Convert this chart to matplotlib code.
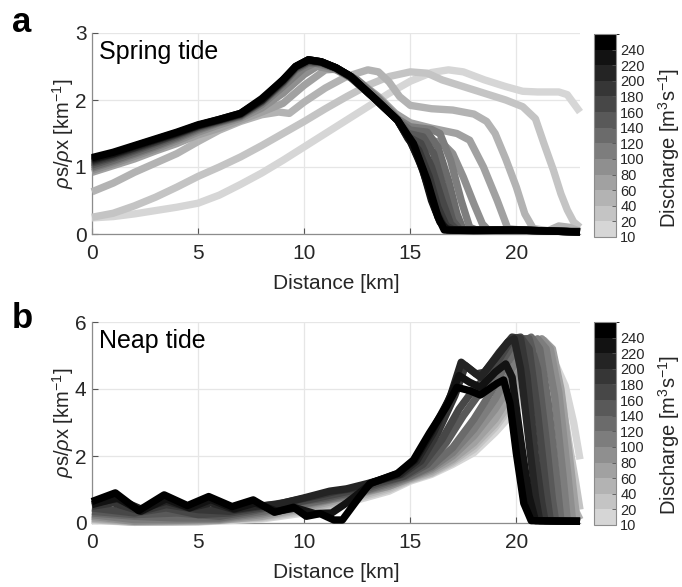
import numpy as np
import matplotlib
matplotlib.use("Agg")
import matplotlib.pyplot as plt
from matplotlib.colors import ListedColormap, BoundaryNorm
from matplotlib.cm import ScalarMappable

plt.rcParams['font.family'] = ['Liberation Sans', 'DejaVu Sans']
plt.rcParams['mathtext.fontset'] = 'custom'
plt.rcParams['mathtext.rm'] = 'Liberation Sans'
plt.rcParams['mathtext.it'] = 'Liberation Sans:italic'

# ---------------- data ----------------
discharge = [10, 20, 40, 60, 80, 100, 120, 140, 160, 180, 200, 220, 240]
cbar_bounds = [10, 20, 40, 60, 80, 100, 120, 140, 160, 180, 200, 220, 240, 260]
cbar_ticks = [10, 20, 40, 60, 80, 100, 120, 140, 160, 180, 200, 220, 240]
x_ticks = [0, 5, 10, 15, 20]
ya_ticks = [0, 1, 2, 3]
yb_ticks = [0, 2, 4, 6]

# Spring tide curves
S10_x = [0, 1, 2, 3, 4, 5, 6, 7, 8, 9, 10, 11, 12, 13, 14, 15, 16, 16.8, 17.5, 18.5, 19.5, 20.3, 21, 22, 22.4, 22.7, 23]
S10_y = [0.24, 0.26, 0.3, 0.35, 0.4, 0.46, 0.58, 0.74, 0.91, 1.1, 1.3, 1.5, 1.7, 1.9, 2.1, 2.28, 2.41, 2.45, 2.42, 2.3, 2.2, 2.13, 2.12, 2.12, 2.08, 1.95, 1.82]
S20_x = [0, 1, 2, 3, 4, 5, 6, 7, 8, 9, 10, 11, 12, 13, 14, 15, 15.8, 16.5, 17.5, 18.5, 19.5, 20.3, 20.9, 21.3, 21.75, 22.1, 22.4, 22.7, 23]
S20_y = [0.25, 0.31, 0.42, 0.55, 0.7, 0.86, 1.0, 1.15, 1.32, 1.5, 1.68, 1.87, 2.05, 2.22, 2.35, 2.42, 2.4, 2.3, 2.2, 2.1, 2.0, 1.9, 1.72, 1.35, 0.95, 0.6, 0.36, 0.18, 0.1]
S40_x = [0, 1, 2, 3, 4, 5, 6, 7, 8, 8.8, 9.3, 10, 11, 12, 13, 13.5, 14, 14.5, 15, 16, 17, 18, 18.6, 19, 19.5, 20, 20.4, 20.8, 21.5, 22, 22.5, 23]
S40_y = [0.63, 0.76, 0.92, 1.06, 1.2, 1.38, 1.55, 1.68, 1.78, 1.82, 1.8, 1.97, 2.18, 2.35, 2.45, 2.42, 2.27, 2.05, 1.92, 1.87, 1.85, 1.79, 1.68, 1.5, 1.12, 0.7, 0.3, 0.08, 0.05, 0.12, 0.1, 0.04]
S60_x = [0, 1, 2, 3, 4, 5, 6, 7, 8, 9, 10, 11, 11.5, 12.5, 13.5, 14.3, 15, 16, 17.2, 17.8, 18.45, 19.1, 19.6, 20.5, 23]
S60_y = [0.92, 1.02, 1.12, 1.24, 1.35, 1.48, 1.58, 1.7, 1.82, 1.95, 2.22, 2.45, 2.46, 2.3, 2.05, 1.8, 1.66, 1.58, 1.5, 1.4, 1.0, 0.5, 0.08, 0.05, 0.04]
S80_x = [0, 1, 2, 3, 4, 5, 6, 7, 8, 9, 10, 10.6, 11.5, 12.5, 13.5, 14.2, 14.8, 15.5, 16.5, 17, 17.5, 18, 18.4, 18.7, 20, 23]
S80_y = [0.95, 1.05, 1.16, 1.27, 1.39, 1.52, 1.63, 1.73, 1.88, 2.1, 2.38, 2.5, 2.45, 2.28, 2.02, 1.8, 1.52, 1.43, 1.36, 1.2, 0.85, 0.45, 0.15, 0.05, 0.05, 0.04]
S100_x = [0, 1, 2, 3, 4, 5, 6, 7, 8, 9, 10, 10.5, 11.5, 12.5, 13.5, 14.4, 15, 16, 16.4, 16.9, 17.4, 17.8, 18.2, 23]
S100_y = [0.98, 1.08, 1.19, 1.3, 1.42, 1.55, 1.66, 1.75, 1.93, 2.2, 2.48, 2.55, 2.47, 2.3, 2.02, 1.72, 1.6, 1.56, 1.5, 1.1, 0.5, 0.1, 0.05, 0.04]
S120_x = [0, 1, 2, 3, 4, 5, 6, 7, 8, 9, 9.6, 10.2, 10.8, 11.5, 12.2, 13.4, 14.4, 15, 15.8, 16.3, 16.8, 17.2, 17.5, 20, 23]
S120_y = [1.0, 1.1, 1.21, 1.32, 1.44, 1.57, 1.67, 1.76, 1.96, 2.24, 2.45, 2.55, 2.55, 2.47, 2.33, 2.0, 1.7, 1.55, 1.52, 1.3, 0.8, 0.3, 0.06, 0.06, 0.03]
S140_x = [0, 1, 2, 3, 4, 5, 6, 7, 8, 9, 9.6, 10.2, 10.8, 11.5, 12.2, 13.4, 14.4, 14.9, 15.6, 16.1, 16.6, 17.0, 17.35, 20, 23]
S140_y = [1.03, 1.13, 1.24, 1.35, 1.46, 1.59, 1.68, 1.77, 1.97, 2.26, 2.47, 2.57, 2.56, 2.47, 2.34, 2.0, 1.7, 1.5, 1.45, 1.2, 0.65, 0.2, 0.06, 0.06, 0.03]
S160_x = [0, 1, 2, 3, 4, 5, 6, 7, 8, 9, 9.6, 10.2, 10.8, 11.5, 12.2, 13.4, 14.4, 14.9, 15.5, 16.0, 16.5, 16.9, 17.2, 20, 23]
S160_y = [1.06, 1.15, 1.26, 1.37, 1.48, 1.6, 1.69, 1.78, 1.98, 2.27, 2.48, 2.58, 2.56, 2.48, 2.34, 2.0, 1.7, 1.45, 1.35, 1.0, 0.5, 0.15, 0.06, 0.06, 0.03]
S180_x = [0, 1, 2, 3, 4, 5, 6, 7, 8, 9, 9.6, 10.2, 10.8, 11.5, 12.2, 13.4, 14.4, 14.9, 15.4, 15.9, 16.3, 16.7, 17.05, 20, 23]
S180_y = [1.08, 1.17, 1.28, 1.38, 1.49, 1.61, 1.7, 1.79, 1.99, 2.28, 2.49, 2.59, 2.57, 2.48, 2.35, 2.0, 1.7, 1.42, 1.25, 0.85, 0.4, 0.12, 0.06, 0.06, 0.03]
S200_x = [0, 1, 2, 3, 4, 5, 6, 7, 8, 9, 9.6, 10.2, 10.8, 11.5, 12.2, 13.4, 14.4, 15.0, 15.4, 15.8, 16.2, 16.6, 16.9, 20, 23]
S200_y = [1.1, 1.19, 1.29, 1.4, 1.5, 1.62, 1.7, 1.79, 2.0, 2.29, 2.5, 2.6, 2.57, 2.48, 2.35, 2.0, 1.7, 1.38, 1.12, 0.75, 0.35, 0.1, 0.06, 0.06, 0.03]
S220_x = [0, 1, 2, 3, 4, 5, 6, 7, 8, 9, 9.6, 10.2, 10.8, 11.5, 12.2, 13.4, 14.4, 15.05, 15.6, 16.0, 16.4, 16.75, 20, 23]
S220_y = [1.12, 1.2, 1.31, 1.41, 1.51, 1.62, 1.71, 1.8, 2.0, 2.3, 2.5, 2.6, 2.57, 2.48, 2.35, 2.0, 1.7, 1.36, 0.95, 0.5, 0.18, 0.06, 0.06, 0.03]
S240_x = [0, 1, 2, 3, 4, 5, 6, 7, 8, 9, 9.6, 10.2, 10.8, 11.5, 12.2, 13.4, 14.4, 15.15, 15.8, 16.3, 16.6, 18, 20, 23]
S240_y = [1.14, 1.22, 1.32, 1.42, 1.52, 1.63, 1.71, 1.8, 2.02, 2.3, 2.5, 2.6, 2.57, 2.48, 2.35, 2.0, 1.7, 1.35, 0.8, 0.26, 0.06, 0.05, 0.06, 0.03]

# Neap tide curves
N10_x = [0, 2, 5, 8, 10, 12, 14, 15, 16, 17, 18, 19, 20, 21, 21.6, 21.9, 22.3, 22.7, 23]
N10_y = [0.08, 0.02, 0.03, 0.12, 0.3, 0.6, 0.95, 1.25, 1.45, 1.75, 2.1, 2.7, 3.4, 4.1, 4.55, 4.67, 4.1, 3.0, 1.9]
N20_x = [0, 2, 5, 8, 10, 12, 14, 15, 16, 17, 18, 19, 20, 20.8, 21.3, 21.7, 22.1, 22.5, 22.8, 23]
N20_y = [0.1, 0.02, 0.04, 0.15, 0.35, 0.65, 1.0, 1.28, 1.48, 1.8, 2.2, 2.85, 3.7, 4.6, 5.45, 5.1, 3.9, 2.3, 1.2, 0.4]
N40_x = [0, 2, 5, 8, 10, 12, 14, 15, 16, 17, 18, 19, 20, 20.6, 21.1, 21.5, 21.9, 22.3, 22.7, 23]
N40_y = [0.12, 0.03, 0.05, 0.18, 0.4, 0.7, 1.05, 1.3, 1.5, 1.85, 2.3, 2.95, 3.85, 4.7, 5.45, 5.2, 4.0, 2.2, 0.5, 0.1]
N60_x = [0, 2, 4, 6, 8, 10, 12, 14, 15, 16, 17, 18, 19, 20, 20.8, 21.3, 21.7, 22.1, 22.5, 22.85, 23]
N60_y = [0.15, 0.05, 0.05, 0.08, 0.2, 0.45, 0.75, 1.1, 1.33, 1.55, 1.9, 2.4, 3.1, 4.1, 4.9, 5.45, 5.2, 4.0, 2.0, 0.1, 0.06]
N80_x = [0, 2, 4, 6, 8, 10, 12, 14, 15, 16, 17, 18, 19, 20, 20.7, 21.2, 21.6, 22.0, 22.4, 22.65, 23]
N80_y = [0.2, 0.05, 0.08, 0.1, 0.25, 0.5, 0.8, 1.1, 1.35, 1.6, 2.0, 2.6, 3.4, 4.4, 5.1, 5.5, 5.2, 3.9, 1.6, 0.07, 0.05]
N100_x = [0, 2, 4, 6, 8, 10, 12, 14, 15, 16, 17, 18, 19, 19.8, 20.5, 21.0, 21.4, 21.8, 22.2, 22.4, 23]
N100_y = [0.25, 0.1, 0.1, 0.12, 0.3, 0.55, 0.8, 1.15, 1.38, 1.65, 2.1, 2.8, 3.7, 4.6, 5.3, 5.5, 5.2, 3.8, 1.4, 0.07, 0.05]
N120_x = [0, 2, 4, 6, 7.5, 9, 11, 13, 14.5, 15, 16, 17, 18, 18.8, 19.5, 20.2, 20.7, 21.1, 21.5, 21.9, 22.1, 23]
N120_y = [0.3, 0.2, 0.15, 0.15, 0.3, 0.45, 0.7, 1.0, 1.3, 1.4, 1.7, 2.25, 3.1, 3.9, 4.7, 5.35, 5.55, 5.2, 3.6, 1.3, 0.07, 0.05]
N140_x = [0, 2, 4, 6, 7.5, 9, 11, 12.5, 14, 14.8, 15.8, 16.7, 17.5, 18.3, 19.0, 19.7, 20.2, 20.6, 21.0, 21.4, 21.7, 21.85, 23]
N140_y = [0.35, 0.25, 0.3, 0.2, 0.35, 0.55, 0.75, 0.95, 1.25, 1.4, 1.75, 2.4, 3.2, 3.9, 4.5, 5.2, 5.5, 5.5, 4.6, 2.5, 0.7, 0.07, 0.05]
N160_x = [0, 2, 3.5, 5, 6.5, 8, 9.5, 11, 12.5, 13.5, 14.7, 15.6, 16.5, 17.3, 18.0, 18.5, 19.2, 19.8, 20.2, 20.6, 21.0, 21.4, 21.6, 23]
N160_y = [0.45, 0.3, 0.45, 0.25, 0.3, 0.45, 0.6, 0.8, 1.0, 1.2, 1.4, 1.75, 2.5, 3.4, 4.0, 4.3, 4.9, 5.5, 5.55, 5.2, 3.3, 1.0, 0.07, 0.05]
N180_x = [0, 1, 2.3, 3.5, 5, 6.5, 7.5, 9, 10.5, 11.5, 12.5, 13.2, 14.6, 15.5, 16.3, 17.1, 17.6, 18.1, 18.5, 19.2, 19.8, 20.2, 20.5, 20.9, 21.2, 21.35, 23]
N180_y = [0.5, 0.6, 0.35, 0.55, 0.4, 0.35, 0.45, 0.6, 0.8, 0.95, 1.05, 1.2, 1.45, 1.85, 2.7, 3.8, 4.7, 4.45, 4.5, 5.1, 5.55, 5.5, 4.4, 2.0, 0.6, 0.07, 0.05]
N200_x = [0, 1.2, 2.3, 3.5, 4.6, 5.6, 6.7, 7.7, 8.7, 10, 11.2, 12, 13, 14.5, 15.3, 16.1, 16.9, 17.4, 17.9, 18.3, 19.0, 19.6, 19.9, 20.2, 20.6, 20.9, 21.1, 23]
N200_y = [0.6, 0.72, 0.42, 0.65, 0.45, 0.6, 0.4, 0.5, 0.55, 0.75, 0.95, 1.02, 1.18, 1.45, 1.85, 2.7, 3.8, 4.8, 4.55, 4.35, 4.9, 5.4, 5.5, 4.6, 2.4, 0.8, 0.07, 0.05]
N220_x = [0, 1.2, 2.3, 3.5, 4.6, 5.6, 6.7, 7.7, 8.7, 9.6, 10.5, 11.3, 12.0, 12.6, 13.2, 14.4, 15.2, 16.0, 16.8, 17.3, 17.8, 18.3, 19.0, 19.5, 19.8, 20.2, 20.6, 20.9, 23]
N220_y = [0.55, 0.75, 0.35, 0.72, 0.45, 0.7, 0.42, 0.6, 0.35, 0.45, 0.28, 0.3, 0.6, 0.9, 1.2, 1.47, 1.87, 2.72, 3.65, 4.4, 4.2, 4.05, 4.5, 4.75, 4.35, 2.5, 0.8, 0.07, 0.05]
N240_x = [0, 1.1, 2.2, 3.4, 4.5, 5.5, 6.6, 7.6, 8.6, 9.5, 10.1, 10.75, 11.4, 11.8, 12.5, 13.1, 14.4, 15.15, 15.9, 16.7, 17.2, 17.8, 18.3, 19.1, 19.4, 19.7, 20.0, 20.35, 20.7, 23]
N240_y = [0.64, 0.9, 0.37, 0.84, 0.52, 0.79, 0.49, 0.69, 0.32, 0.47, 0.2, 0.28, 0.09, 0.09, 0.69, 1.18, 1.48, 1.88, 2.68, 3.47, 4.05, 3.95, 3.82, 4.17, 4.27, 3.57, 2.08, 0.59, 0.07, 0.05]

spring = [(S10_x, S10_y), (S20_x, S20_y), (S40_x, S40_y), (S60_x, S60_y), (S80_x, S80_y),
          (S100_x, S100_y), (S120_x, S120_y), (S140_x, S140_y), (S160_x, S160_y),
          (S180_x, S180_y), (S200_x, S200_y), (S220_x, S220_y), (S240_x, S240_y)]
neap = [(N10_x, N10_y), (N20_x, N20_y), (N40_x, N40_y), (N60_x, N60_y), (N80_x, N80_y),
        (N100_x, N100_y), (N120_x, N120_y), (N140_x, N140_y), (N160_x, N160_y),
        (N180_x, N180_y), (N200_x, N200_y), (N220_x, N220_y), (N240_x, N240_y)]

# ---------------- style ----------------
grays = np.linspace(0.84, 0.0, len(discharge))
colors = [(g, g, g) for g in grays]
cmap = ListedColormap(colors)
norm = BoundaryNorm(cbar_bounds, cmap.N)
TXT = '#262626'

fig = plt.figure(figsize=(6.82, 5.87), dpi=100)

W = 682.0
H = 587.0


def rect(l, t, r, b):
    return [l / W, 1 - b / H, (r - l) / W, (b - t) / H]


panels = [
    dict(ax=rect(92, 33, 580, 234), cb=rect(594, 34, 616, 237), data=spring, ylim=(0, 3),
         yticks=ya_ticks, title='Spring tide', letter='a', ly=22, cbly=148),
    dict(ax=rect(92, 322, 580, 523), cb=rect(594, 322, 616, 525), data=neap, ylim=(0, 6),
         yticks=yb_ticks, title='Neap tide', letter='b', ly=318, cbly=435),
]

for p in panels:
    ax = fig.add_axes(p['ax'])
    for (xs, ys), c in zip(p['data'], colors):
        ax.plot(xs, ys, color=c, lw=5.3, solid_capstyle='butt', solid_joinstyle='round',
                clip_on=False, zorder=3)
    ax.set_xlim(0, 23)
    ax.set_ylim(*p['ylim'])
    ax.set_xticks(x_ticks)
    ax.set_yticks(p['yticks'])
    ax.grid(True, color='#e6e6e6', lw=0.9, zorder=0)
    ax.set_axisbelow(True)
    for s in ['top', 'right']:
        ax.spines[s].set_visible(False)
    for s in ['left', 'bottom']:
        ax.spines[s].set_color('#8c8c8c')
        ax.spines[s].set_linewidth(0.9)
    ax.tick_params(direction='in', length=4, width=0.8, color='#555555',
                   labelsize=15, labelcolor=TXT)
    ax.tick_params(axis='x', pad=7)
    ax.tick_params(axis='y', pad=4)
    ax.text(0.5, -0.245, 'Distance [km]', transform=ax.transAxes, ha='center',
            va='center', fontsize=15, color=TXT)
    ax.text(-0.06, 0.5, r'$\rho$s/$\rho$x [km$^{-1}$]', transform=ax.transAxes,
            ha='center', va='center', rotation=90, fontsize=14.5, color=TXT)
    ax.text(0.014, 0.905, p['title'], transform=ax.transAxes, ha='left', va='center',
            fontsize=18, color='black', zorder=5)
    fig.text(22 / W, 1 - p['ly'] / H, p['letter'], fontsize=25, fontweight='bold',
             ha='center', va='center', color='black')

    cax = fig.add_axes(p['cb'])
    sm = ScalarMappable(norm=norm, cmap=cmap)
    cb = fig.colorbar(sm, cax=cax, boundaries=cbar_bounds, spacing='uniform',
                      ticks=cbar_ticks)
    cb.outline.set_edgecolor('#8c8c8c')
    cb.outline.set_linewidth(0.8)
    cax.tick_params(direction='in', length=3, width=0.6, color='#555555',
                    labelsize=10.5, labelcolor=TXT, pad=3)
    cax.set_yticklabels([str(v) for v in cbar_ticks])
    fig.text(669 / W, 1 - p['cbly'] / H, r'Discharge [m$^3$s$^{-1}$]', rotation=90,
             ha='center', va='center', fontsize=14.5, color=TXT)

fig.savefig('out.png', dpi=100)
